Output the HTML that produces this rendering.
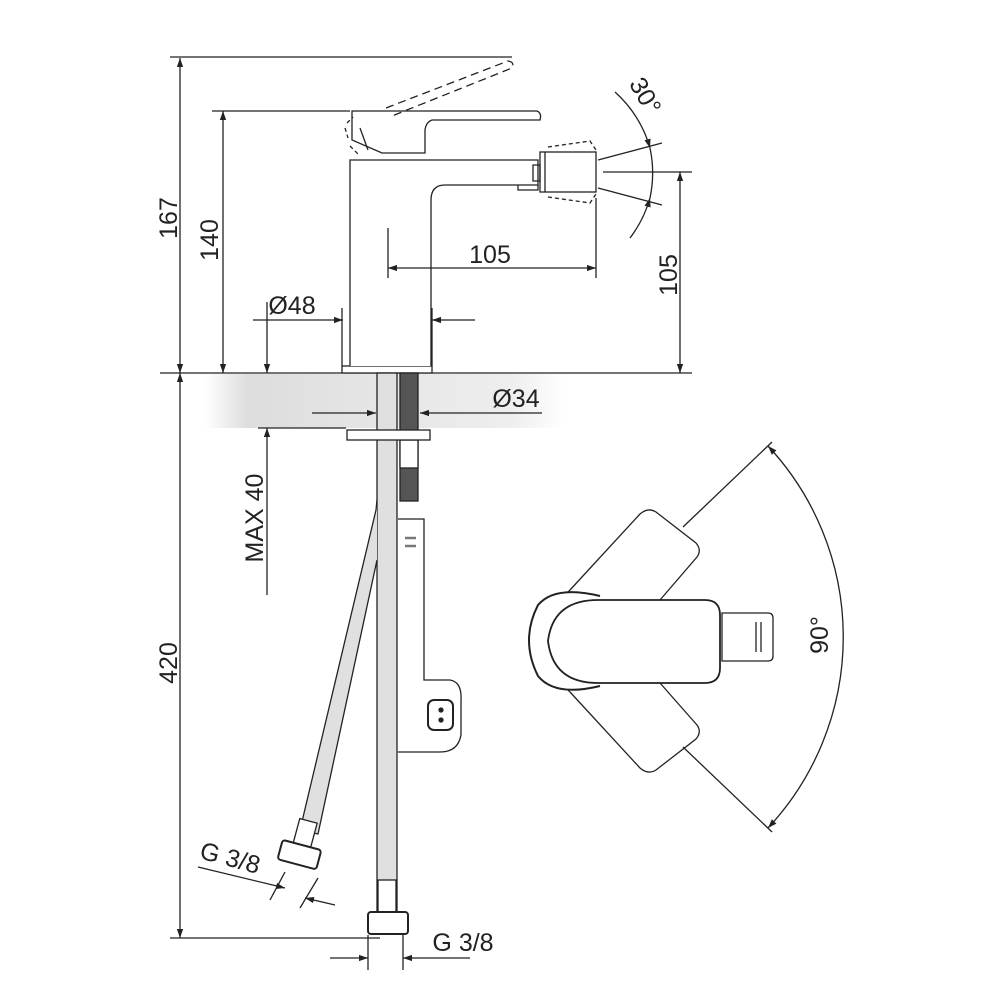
<!DOCTYPE html>
<html><head><meta charset="utf-8"><style>
html,body{margin:0;padding:0;background:#fff}
svg{display:block}
text{font-family:"Liberation Sans",sans-serif;fill:#222}
</style></head><body>
<svg width="1000" height="1000" viewBox="0 0 1000 1000" xmlns="http://www.w3.org/2000/svg">
<defs>
<linearGradient id="band" x1="0" x2="1" y1="0" y2="0">
<stop offset="0" stop-color="#fff"/><stop offset="0.12" stop-color="#ddd"/><stop offset="0.5" stop-color="#e6e6e6"/><stop offset="0.85" stop-color="#eee"/><stop offset="1" stop-color="#fff"/>
</linearGradient>
<marker id="a" viewBox="0 0 10 10" refX="10" refY="5" markerWidth="9" markerHeight="9" orient="auto-start-reverse" markerUnits="userSpaceOnUse"><path d="M0,1.5 L10,5 L0,8.5z" fill="#222"/></marker>
</defs>
<g stroke="#222" fill="none" stroke-width="1.3">
<rect x="205" y="374" width="360" height="54" fill="url(#band)" stroke="none"/>
<line x1="170" y1="57" x2="512" y2="57"/>
<line x1="212" y1="111" x2="350" y2="111"/>
<line x1="160" y1="373" x2="692" y2="373"/>
<line x1="258" y1="428" x2="346" y2="428"/>
<line x1="170" y1="938" x2="380" y2="938"/>
<line x1="180" y1="58" x2="180" y2="373" marker-start="url(#a)" marker-end="url(#a)"/>
<line x1="180" y1="373" x2="180" y2="938" marker-start="url(#a)" marker-end="url(#a)"/>
<line x1="223" y1="111" x2="223" y2="373" marker-start="url(#a)" marker-end="url(#a)"/>
<line x1="267" y1="302" x2="267" y2="373" marker-end="url(#a)"/>
<line x1="267" y1="595" x2="267" y2="428" marker-end="url(#a)"/>
<line x1="312" y1="413" x2="376" y2="413" marker-end="url(#a)"/>
<line x1="542" y1="413" x2="420" y2="413" marker-end="url(#a)"/>
<line x1="603" y1="172" x2="692" y2="172"/>
<line x1="680" y1="172" x2="680" y2="373" marker-start="url(#a)" marker-end="url(#a)"/>
<line x1="598" y1="160" x2="662" y2="143"/>
<line x1="598" y1="188" x2="662" y2="205"/>
<path d="M615,92 A120,120 0 0 1 650,148" marker-end="url(#a)"/>
<path d="M630,238 A120,120 0 0 0 650,198" marker-end="url(#a)"/>
<path d="M650,148 A120,120 0 0 1 650,198"/>
<!-- faucet body -->
<rect x="342" y="366" width="90" height="7" fill="#fff"/>
<path d="M350,366 V160 H538 V185 H445 Q431,185 431,200 V366" fill="#fff"/>
<path d="M518,185 v5 h20 v-5" />
<!-- dims over body -->
<line x1="253" y1="320" x2="343" y2="320" marker-end="url(#a)"/>
<line x1="475" y1="320" x2="432" y2="320" marker-end="url(#a)"/>
<line x1="342" y1="308" x2="342" y2="366"/><line x1="432" y1="308" x2="432" y2="366"/>
<line x1="388" y1="228" x2="388" y2="278"/>
<line x1="596" y1="198" x2="596" y2="278"/>
<line x1="388" y1="268" x2="596" y2="268" marker-start="url(#a)" marker-end="url(#a)"/>
<!-- lever -->
<path d="M352,111 H537 Q542,113 540,120 H432 Q426,122 425,130 V153 H382 L352,140 Z" fill="#fff"/>
<path d="M360,128 l8,22" />
<path d="M347,123 l6,-6 M345,128 l3,10 M350,146 l8,8" stroke-dasharray="4,3"/>
<path d="M386,108 L508,61 Q515,62 512,68 L392,116" stroke-dasharray="8,5"/>
<!-- nozzle -->
<rect x="540" y="152" width="56" height="40" fill="#fff"/>
<line x1="545" y1="152" x2="545" y2="192"/>
<path d="M533,165 h7 v16 h-7z"/>
<path d="M548,147 L590,141 L596,150 M548,197 L590,203 L596,194" stroke-dasharray="4,3"/>
<!-- pipes -->
<rect x="377" y="373" width="20" height="540" fill="#e0e0e0"/>
<path d="M377,500 L376,510 L300,830 L318,834 L377,560" fill="#e0e0e0"/>
<rect x="400" y="373" width="18" height="128" fill="#555" stroke="#222"/>
<rect x="400" y="440" width="18" height="28" fill="#fff"/>
<rect x="347" y="430" width="83" height="10" fill="#fff"/>
<path d="M398,519 H424 V680 H450 Q462,682 461,700 V735 Q458,752 440,752 H398" fill="#fff"/>
<rect x="428" y="700" width="25" height="30" rx="6" stroke-width="2"/>
<circle cx="441" cy="710" r="2" fill="#222"/><circle cx="441" cy="720" r="2" fill="#222"/>
<line x1="405" y1="538" x2="416" y2="538" stroke="#777" stroke-width="2.5"/><line x1="405" y1="546" x2="416" y2="546" stroke="#777" stroke-width="2.5"/>
<rect x="378" y="880" width="18" height="32" fill="#fff"/>
<rect x="368" y="912" width="40" height="22" rx="3" fill="#fff" stroke-width="2"/>
<g transform="translate(302,845) rotate(15)">
<rect x="-9" y="-25" width="18" height="25" fill="#fff"/>
<rect x="-20" y="0" width="40" height="20" rx="3" fill="#fff" stroke-width="2"/>
</g>
<line x1="198" y1="867" x2="285" y2="888" marker-end="url(#a)"/>
<line x1="335" y1="905" x2="305" y2="898" marker-end="url(#a)"/>
<line x1="285" y1="872" x2="270" y2="900"/><line x1="318" y1="878" x2="300" y2="908"/>
<line x1="330" y1="958" x2="368" y2="958" marker-end="url(#a)"/>
<line x1="470" y1="958" x2="403" y2="958" marker-end="url(#a)"/>
<line x1="368" y1="935" x2="368" y2="970"/><line x1="403" y1="935" x2="403" y2="970"/>
<!-- top view -->
<path d="M570,590 L640,514 Q648,507 656,512 L696,543 Q702,550 697,557 L660,600" fill="#fff"/>
<path d="M570,590 L540,620" stroke-dasharray="8,5"/>
<path d="M570,692 L640,768 Q648,775 656,770 L696,739 Q702,732 697,725 L660,683" fill="#fff"/>
<path d="M570,692 L540,662" stroke-dasharray="8,5"/>
<path d="M600,596 Q555,585 538,605 Q520,640 538,676 Q555,697 600,686" stroke-width="2" fill="#fff"/>
<path d="M722,613 H768 Q773,613 773,618 V656 Q773,661 768,661 H722Z" fill="#fff"/>
<line x1="756" y1="622" x2="756" y2="652"/><line x1="761" y1="622" x2="761" y2="652"/>
<path d="M598,600 H705 Q720,600 720,615 V668 Q720,683 705,683 H598 Q553,683 548,641 Q553,600 598,600Z" fill="#fff" stroke-width="1.8"/>
<line x1="683" y1="527" x2="772" y2="442"/>
<line x1="683" y1="747" x2="772" y2="832"/>
<path d="M768,446 A280,280 0 0 1 768,828" marker-start="url(#a)" marker-end="url(#a)"/>
</g>
<g font-size="25">
<text transform="translate(177,218) rotate(-90)" text-anchor="middle">167</text>
<text transform="translate(177,663) rotate(-90)" text-anchor="middle">420</text>
<text transform="translate(218,240) rotate(-90)" text-anchor="middle">140</text>
<text transform="translate(263,518) rotate(-90)" text-anchor="middle">MAX 40</text>
<text x="292" y="314" text-anchor="middle">Ø48</text>
<text x="516" y="407" text-anchor="middle">Ø34</text>
<text x="490" y="263" text-anchor="middle">105</text>
<text transform="translate(677,275) rotate(-90)" text-anchor="middle">105</text>
<text transform="translate(638,100) rotate(60)" text-anchor="middle">30°</text>
<text transform="translate(828,635) rotate(-90)" text-anchor="middle">90°</text>
<text transform="translate(228,866) rotate(15)" text-anchor="middle">G 3/8</text>
<text x="463" y="951" text-anchor="middle">G 3/8</text>
</g>
</svg>
</body></html>
